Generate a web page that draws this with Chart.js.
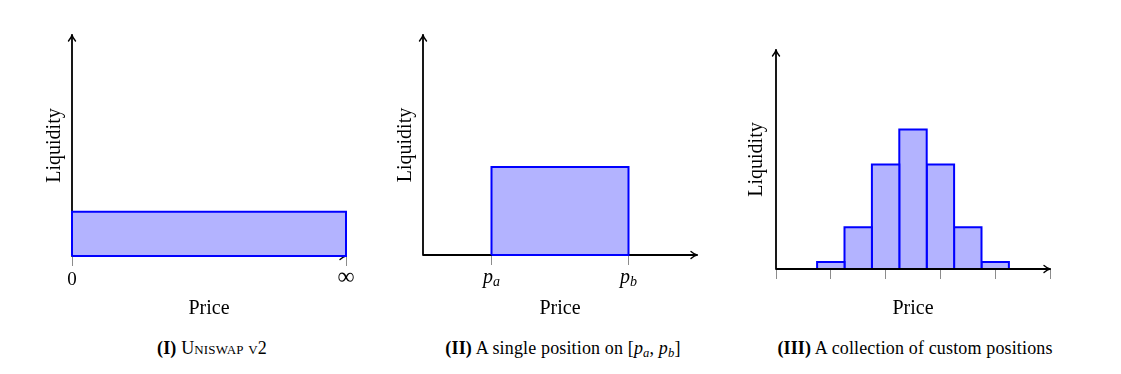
<!DOCTYPE html>
<html>
<head>
<meta charset="utf-8">
<script src="https://cdn.jsdelivr.net/npm/chart.js@4.4.1/dist/chart.umd.min.js"></script>
<style>
  body { margin: 0; background: #fff; width: 1121px; height: 374px; position: relative; overflow: hidden; font-family: "Liberation Serif", serif; }
  canvas { position: absolute; top: 0; }
  .caption { position: absolute; top: 337px; font-size: 18px; letter-spacing: 0.15px; line-height: 22px; white-space: nowrap; transform: translateX(-50%); color: #000; }
  .sc { font-variant: small-caps; }
  sub { font-size: 0.7em; vertical-align: -0.25em; line-height: 0; }
</style>
</head>
<body>
<canvas id="c1" width="340" height="330" style="left:30px"></canvas>
<canvas id="c2" width="340" height="330" style="left:381px"></canvas>
<canvas id="c3" width="340" height="330" style="left:734px"></canvas>

<div class="caption" style="left:212px"><b>(I)</b> <span class="sc">Uniswap v2</span></div>
<div class="caption" style="left:563px"><b>(II)</b> A single position on [<i>p</i><sub><i>a</i></sub>, <i>p</i><sub><i>b</i></sub>]</div>
<div class="caption" style="left:915px"><b>(III)</b> A collection of custom positions</div>

<script>
// panel I: one position over the whole price range
const p1Range = [0, 1];
const p1Height = 1;
const p1TickValues = [0, 1];
const p1TickLabels = ['0', '∞'];

// panel II: single position between pa and pb
const p2Range = [1, 3];
const p2Height = 2;
const p2TickValues = [1, 3];
const p2TickLabels = [['p', 'a'], ['p', 'b']];

// panel III: several stacked-up ranges
const p3Edges = [0.75, 1.25, 1.75, 2.25, 2.75, 3.25, 3.75, 4.25];
const p3Heights = [0.25, 1.5, 3.75, 5, 3.75, 1.5, 0.25];
const p3TickValues = [0, 1, 2, 3, 4, 5];

const FONT = '"Liberation Serif", serif';
const BAR_FILL = 'rgb(179,179,255)';
const BAR_EDGE = 'rgb(0,0,255)';

function rectPath(x0, x1, h) {
  return [{ x: x0, y: 0 }, { x: x0, y: h }, { x: x1, y: h }, { x: x1, y: 0 }, { x: x0, y: 0 }];
}

// black axes with arrow heads, drawn from the scales
function arrowAxes(onTop) {
  const draw = function (chart) {
    const ctx = chart.ctx, xs = chart.scales.x, ys = chart.scales.y;
    const ox = xs.getPixelForValue(xs.min), oy = ys.getPixelForValue(0);
    const ex = xs.getPixelForValue(xs.max), ty = ys.getPixelForValue(ys.max);
    ctx.save();
    ctx.strokeStyle = '#000';
    ctx.lineWidth = 1.8;
    ctx.lineCap = 'round';
    ctx.lineJoin = 'round';
    ctx.beginPath();
    ctx.moveTo(ox, oy); ctx.lineTo(ox, ty);
    ctx.moveTo(ox, oy); ctx.lineTo(ex, oy);
    ctx.stroke();
    ctx.lineWidth = 1.4;
    ctx.beginPath();
    ctx.moveTo(ox - 3.5, ty + 6); ctx.quadraticCurveTo(ox - 0.5, ty + 2.5, ox, ty);
    ctx.quadraticCurveTo(ox + 0.5, ty + 2.5, ox + 3.5, ty + 6);
    ctx.moveTo(ex - 6, oy - 3.5); ctx.quadraticCurveTo(ex - 2.5, oy - 0.5, ex, oy);
    ctx.quadraticCurveTo(ex - 2.5, oy + 0.5, ex - 6, oy + 3.5);
    ctx.stroke();
    ctx.restore();
  };
  return onTop ? { id: 'arrowAxes', afterDatasetsDraw: draw } : { id: 'arrowAxes', beforeDatasetsDraw: draw };
}

// italic p with a subscript under each tick
const subLabels = {
  id: 'subLabels',
  afterDraw(chart, args, opts) {
    if (!opts.labels) return;
    const ctx = chart.ctx, xs = chart.scales.x;
    ctx.save();
    ctx.fillStyle = '#000';
    ctx.textBaseline = 'alphabetic';
    opts.values.forEach(function (v, i) {
      const main = opts.labels[i][0], sub = opts.labels[i][1];
      const px = xs.getPixelForValue(v), base = xs.top + 28;
      ctx.font = 'italic 20px ' + FONT;
      const w1 = ctx.measureText(main).width;
      ctx.font = 'italic 14px ' + FONT;
      const w2 = ctx.measureText(sub).width;
      const left = px - (w1 + w2) / 2;
      ctx.font = 'italic 20px ' + FONT;
      ctx.fillText(main, left, base);
      ctx.font = 'italic 14px ' + FONT;
      ctx.fillText(sub, left + w1, base + 3);
    });
    ctx.restore();
  }
};

function makePanel(id, cfg) {
  const datasets = cfg.rects.map(function (r) {
    return {
      data: rectPath(r[0], r[1], r[2]),
      showLine: true,
      fill: 'shape',
      backgroundColor: BAR_FILL,
      borderColor: BAR_EDGE,
      borderWidth: 2,
      borderJoinStyle: 'miter',
      pointRadius: 0,
      pointHoverRadius: 0,
      tension: 0,
      clip: false
    };
  });
  return new Chart(document.getElementById(id), {
    type: 'scatter',
    data: { datasets: datasets },
    options: {
      responsive: false,
      animation: false,
      events: [],
      layout: { padding: { top: cfg.top, right: 24, left: 0, bottom: 0 } },
      plugins: {
        legend: { display: false },
        tooltip: { enabled: false },
        subLabels: { values: cfg.tickValues, labels: cfg.subLabels }
      },
      scales: {
        x: {
          type: 'linear', min: 0, max: cfg.xMax,
          afterBuildTicks: function (s) { s.ticks = cfg.tickValues.map(v => ({ value: v })); },
          afterFit: function (s) { s.height = 330 - cfg.axisY; s.paddingLeft = 0; s.paddingRight = 0; },
          grid: { display: true, drawOnChartArea: false, drawTicks: true, tickLength: 10, color: '#8c8c8c', lineWidth: 1 },
          border: { display: false },
          ticks: {
            display: !!cfg.tickLabels,
            callback: function (v, i) { return cfg.tickLabels ? cfg.tickLabels[i] : ''; },
            // the infinity sign is set larger than the digit
            font: function (c) {
              const lbl = cfg.tickLabels ? cfg.tickLabels[c.index] : '';
              return lbl === '∞' ? { family: FONT, size: 24, lineHeight: 0.75 } : { family: FONT, size: 19 };
            },
            color: '#000', padding: 3,
            maxRotation: 0, autoSkip: false
          },
          title: { display: true, text: 'Price', font: { family: FONT, size: 20 }, color: '#000', padding: { top: 0, bottom: 9 } }
        },
        y: {
          type: 'linear', min: 0, max: cfg.yMax,
          afterFit: function (s) { s.width = 42; },
          grid: { display: false },
          border: { display: false },
          ticks: { display: false },
          title: { display: true, text: 'Liquidity', font: { family: FONT, size: 20 }, color: '#000', padding: { top: cfg.yTitlePad, bottom: 0 } }
        }
      }
    },
    plugins: [arrowAxes(cfg.axesOnTop), subLabels]
  });
}

makePanel('c1', {
  rects: [[p1Range[0], p1Range[1], p1Height]],
  xMax: 1, yMax: 5, top: 35, axisY: 256, yTitlePad: 13,
  tickValues: p1TickValues, tickLabels: p1TickLabels
});

makePanel('c2', {
  rects: [[p2Range[0], p2Range[1], p2Height]],
  xMax: 4, yMax: 5, top: 35, axisY: 255, yTitlePad: 13,
  tickValues: p2TickValues, subLabels: p2TickLabels
});

makePanel('c3', {
  rects: p3Heights.map((h, i) => [p3Edges[i], p3Edges[i + 1], h]),
  xMax: 5, yMax: 7.85, top: 50, axisY: 269, yTitlePad: 11,
  tickValues: p3TickValues, axesOnTop: true
});
</script>
</body>
</html>
